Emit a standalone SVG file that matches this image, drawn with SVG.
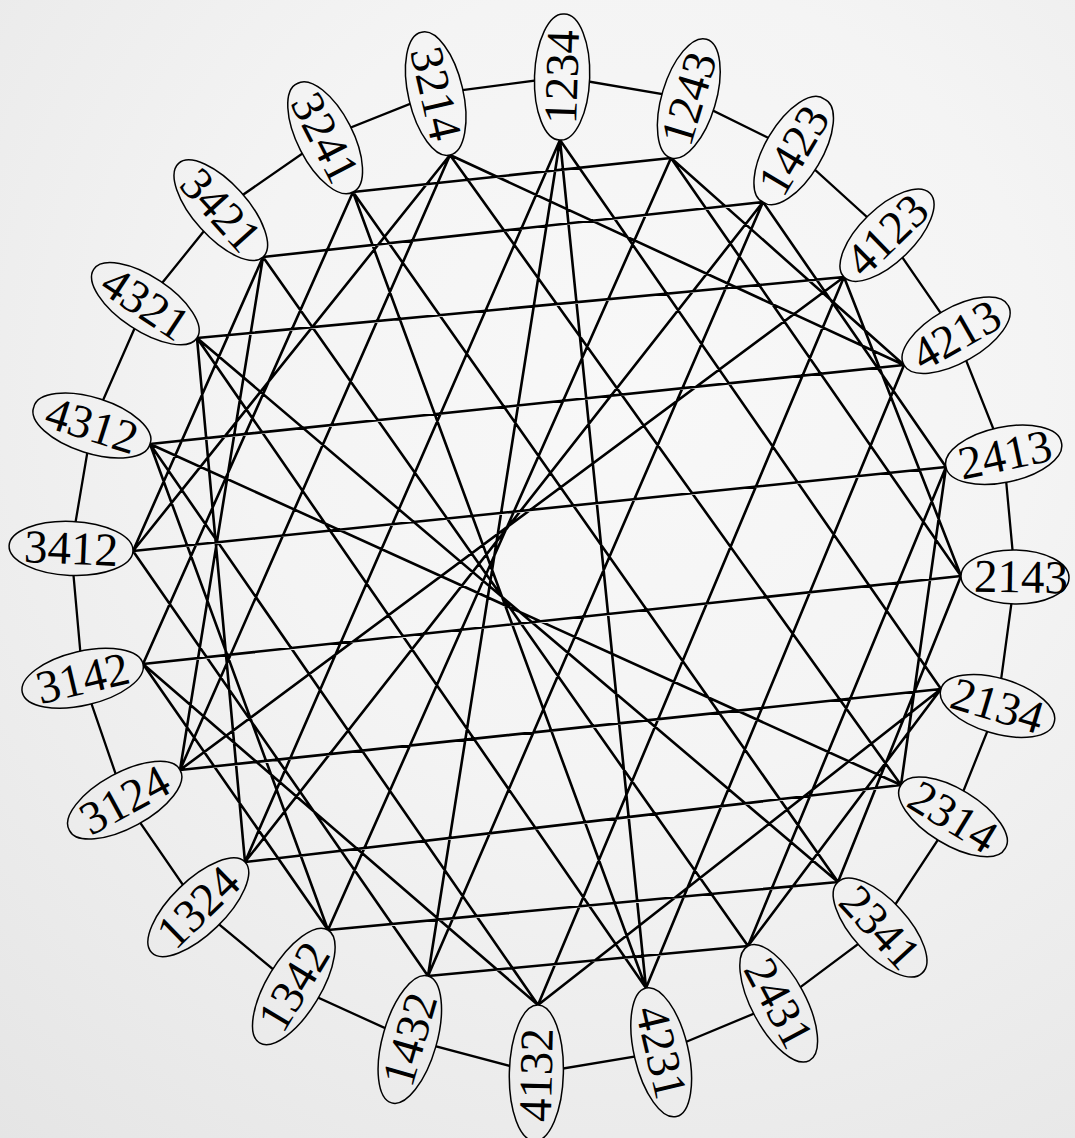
<svg xmlns="http://www.w3.org/2000/svg" width="1075" height="1138" viewBox="0 0 1075 1138">
<defs>
<radialGradient id="bg" gradientUnits="userSpaceOnUse" cx="640" cy="380" r="1150">
<stop offset="0" stop-color="#f8f8f8"/>
<stop offset="0.35" stop-color="#f4f4f4"/>
<stop offset="1" stop-color="#e1e1e1"/>
</radialGradient>
<style>
.edge{stroke:#000;stroke-width:2.6;fill:none;stroke-linecap:round}
.ring{stroke:#000;stroke-width:2.3;fill:none}
.node path{fill:url(#bg);stroke:#000;stroke-width:1.5}
.node text{font-family:"Liberation Serif","Times New Roman",serif;font-size:47px;text-anchor:middle;fill:#000}
</style>
</defs>
<rect x="0" y="0" width="1075" height="1138" fill="url(#bg)"/>
<g id="connectors">
<polygon class="ring" points="562.1,77 688.8,98.6 793.7,150.5 887,235.2 956.1,335.3 1003.7,454.7 1015,576.9 997.5,706 953,816.9 880,927.6 778.7,1003.3 661.2,1052.2 536.3,1073 409.8,1039.4 293.8,986.5 198.3,907.2 124.7,800.2 82.7,678.3 71.1,548.4 91.9,425.5 145.4,303.7 220.8,210.2 325.1,137.7 435.7,93.6"/>
<path class="edge" d="M560 140L941 689M560 140L646 988M560 140L428 976M560 140L245 862
M671 158L904 365M671 158L961 576M671 158L328 930M671 158L353 192
M763 202L946 467M763 202L428 976M763 202L245 862M763 202L263 257
M844 277L961 576M844 277L538 1005M844 277L180 770M844 277L197 338
M904 365L646 988M904 365L150 444M904 365L450 155
M946 467L901 785M946 467L748 946M946 467L133 551
M961 576L838 882M961 576L143 664
M941 689L748 946M941 689L538 1005M941 689L180 770
M901 785L245 862M901 785L150 444M901 785L450 155
M838 882L328 930M838 882L197 338M838 882L353 192
M748 946L428 976M748 946L263 257
M646 988L197 338M646 988L353 192
M538 1005L143 664M538 1005L150 444
M428 976L133 551
M328 930L143 664M328 930L150 444
M245 862L197 338
M180 770L263 257M180 770L450 155
M143 664L353 192
M133 551L263 257M133 551L450 155"/>
</g>
<g id="node-1234" class="node"><path d="M560 140A63 27 -88.1 1 0 564.2 14.1A63 27 -88.1 1 0 560 140Z"/><text x="562.1" y="77" dy="0.33em" transform="rotate(-88.1 562.1 77)">1234</text></g>
<g id="node-1243" class="node"><path d="M671 158A62 27 -73.3 1 0 706.6 39.2A62 27 -73.3 1 0 671 158Z"/><text x="688.8" y="98.6" dy="0.33em" transform="rotate(-73.3 688.8 98.6)">1243</text></g>
<g id="node-1423" class="node"><path d="M763 202A60 27 -59.2 1 0 824.4 99.1A60 27 -59.2 1 0 763 202Z"/><text x="793.7" y="150.5" dy="0.33em" transform="rotate(-59.2 793.7 150.5)">1423</text></g>
<g id="node-4123" class="node"><path d="M844 277A60 27 -44.2 1 0 930 193.3A60 27 -44.2 1 0 844 277Z"/><text x="887" y="235.2" dy="0.33em" transform="rotate(-44.2 887 235.2)">4123</text></g>
<g id="node-4213" class="node"><path d="M904 365A60 27 -29.7 1 0 1008.2 305.5A60 27 -29.7 1 0 904 365Z"/><text x="956.1" y="335.3" dy="0.33em" transform="rotate(-29.7 956.1 335.3)">4213</text></g>
<g id="node-2413" class="node"><path d="M946 467A59 27 -12 1 0 1061.4 442.5A59 27 -12 1 0 946 467Z"/><text x="1005" y="454.7" dy="0.33em" transform="rotate(-12 1005 454.7)">2413</text></g>
<g id="node-2143" class="node"><path d="M961 576A54 27 1 1 0 1069 577.9A54 27 1 1 0 961 576Z"/><text x="1021" y="577" dy="0.33em" transform="rotate(1 1021 577)">2143</text></g>
<g id="node-2134" class="node"><path d="M941 689A59 27 16.7 1 0 1054 722.9A59 27 16.7 1 0 941 689Z"/><text x="997.5" y="706" dy="0.33em" transform="rotate(16.7 997.5 706)">2134</text></g>
<g id="node-2314" class="node"><path d="M901 785A61 27 31.5 1 0 1005 848.7A61 27 31.5 1 0 901 785Z"/><text x="953" y="816.9" dy="0.33em" transform="rotate(31.5 953 816.9)">2314</text></g>
<g id="node-2341" class="node"><path d="M838 882A62 27 47.3 1 0 922.1 973.1A62 27 47.3 1 0 838 882Z"/><text x="880" y="927.6" dy="0.33em" transform="rotate(47.3 880 927.6)">2341</text></g>
<g id="node-2431" class="node"><path d="M748 946A65 27 61.8 1 0 809.4 1060.6A65 27 61.8 1 0 748 946Z"/><text x="778.7" y="1003.3" dy="0.33em" transform="rotate(61.8 778.7 1003.3)">2431</text></g>
<g id="node-4231" class="node"><path d="M646 988A66 27 76.7 1 0 676.4 1116.5A66 27 76.7 1 0 646 988Z"/><text x="661.2" y="1052.2" dy="0.33em" transform="rotate(76.7 661.2 1052.2)">4231</text></g>
<g id="node-4132" class="node"><path d="M538 1005A68 27 91.4 1 0 534.7 1141A68 27 91.4 1 0 538 1005Z"/><text x="536.3" y="1075" dy="0.33em" transform="rotate(-88.6 536.3 1075)">4132</text></g>
<g id="node-1432" class="node"><path d="M428 976A66 27 106 1 0 391.6 1102.9A66 27 106 1 0 428 976Z"/><text x="409.8" y="1039.4" dy="0.33em" transform="rotate(-74 409.8 1039.4)">1432</text></g>
<g id="node-1342" class="node"><path d="M328 930A66 27 121.2 1 0 259.6 1042.9A66 27 121.2 1 0 328 930Z"/><text x="293.8" y="986.5" dy="0.33em" transform="rotate(-58.8 293.8 986.5)">1342</text></g>
<g id="node-1324" class="node"><path d="M245 862A65 27 135.9 1 0 151.6 952.5A65 27 135.9 1 0 245 862Z"/><text x="198.3" y="907.2" dy="0.33em" transform="rotate(-44.1 198.3 907.2)">1324</text></g>
<g id="node-3124" class="node"><path d="M180 770A63 27 151.4 1 0 69.4 830.3A63 27 151.4 1 0 180 770Z"/><text x="124.7" y="800.2" dy="0.33em" transform="rotate(-28.6 124.7 800.2)">3124</text></g>
<g id="node-3142" class="node"><path d="M143 664A62 27 166.7 1 0 22.3 692.5A62 27 166.7 1 0 143 664Z"/><text x="82.7" y="678.3" dy="0.33em" transform="rotate(-13.3 82.7 678.3)">3142</text></g>
<g id="node-3412" class="node"><path d="M133 551A62 27 182.4 1 0 9.1 545.8A62 27 182.4 1 0 133 551Z"/><text x="71.1" y="548.4" dy="0.33em" transform="rotate(2.4 71.1 548.4)">3412</text></g>
<g id="node-4312" class="node"><path d="M150 444A61 27 197.7 1 0 33.8 407A61 27 197.7 1 0 150 444Z"/><text x="91.9" y="425.5" dy="0.33em" transform="rotate(17.7 91.9 425.5)">4312</text></g>
<g id="node-4321" class="node"><path d="M197 338A62 27 213.6 1 0 93.7 269.4A62 27 213.6 1 0 197 338Z"/><text x="145.4" y="303.7" dy="0.33em" transform="rotate(33.6 145.4 303.7)">4321</text></g>
<g id="node-3421" class="node"><path d="M263 257A63 27 228 1 0 178.6 163.4A63 27 228 1 0 263 257Z"/><text x="220.8" y="210.2" dy="0.33em" transform="rotate(48 220.8 210.2)">3421</text></g>
<g id="node-3241" class="node"><path d="M353 192A61 27 242.8 1 0 297.3 83.5A61 27 242.8 1 0 353 192Z"/><text x="325.1" y="137.7" dy="0.33em" transform="rotate(62.8 325.1 137.7)">3241</text></g>
<g id="node-3214" class="node"><path d="M450 155A63 27 256.9 1 0 421.4 32.3A63 27 256.9 1 0 450 155Z"/><text x="435.7" y="93.6" dy="0.33em" transform="rotate(76.9 435.7 93.6)">3214</text></g>
</svg>
